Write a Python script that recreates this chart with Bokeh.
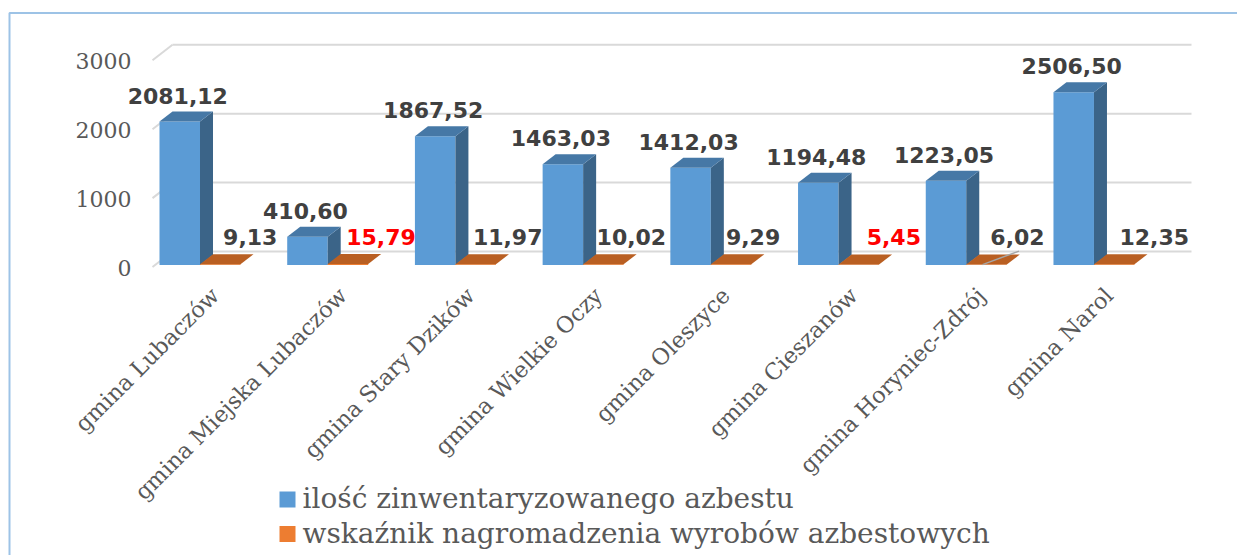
import math
from bokeh.plotting import figure
from bokeh.models import Range1d
from bokeh.core.properties import value
from bokeh.embed import file_html
from bokeh.resources import INLINE

# ---------------- data ----------------
categories = ["gmina Lubaczów", "gmina Miejska Lubaczów", "gmina Stary Dzików",
              "gmina Wielkie Oczy", "gmina Oleszyce", "gmina Cieszanów",
              "gmina Horyniec-Zdrój", "gmina Narol"]
asbestos = [2081.12, 410.60, 1867.52, 1463.03, 1412.03, 1194.48, 1223.05, 2506.50]
indicator = [9.13, 15.79, 11.97, 10.02, 9.29, 5.45, 6.02, 12.35]
y_ticks = [0, 1000, 2000, 3000]
series_names = ["ilość zinwentaryzowanego azbestu",
                "wskaźnik nagromadzenia wyrobów azbestowych"]

# ---------------- layout (pixels) ----------------
W, H = 1237, 555
X0 = 199.5      # px of the first category's group centre
XS = 127.71     # px per category
Y0 = 264.5      # px of value 0
YS = 0.0689     # px per unit of value

def dxp(px):
    return px / XS

def dyp(px):
    return px / YS

def cx(px):
    return (px - X0) / XS

def cy(py):
    return (Y0 - py) / YS

BW = dxp(40.5)             # bar width
DX, DY = dxp(13), dyp(10)  # 3-D depth of bars
WALL_DY = 13.5

BLUE, BLUE_SIDE, BLUE_TOP = "#5B9BD5", "#3B6488", "#4678A6"
ORANGE, ORANGE_TOP = "#ED7D31", "#B95F22"
GRID = "#D9D9D9"
TXT = "#595959"
LBL = "#404040"
SERIF = value("DejaVu Serif")

p = figure(width=W, height=H,
           x_range=Range1d(cx(0), cx(W)), y_range=Range1d(cy(H), cy(0)),
           output_backend="svg", toolbar_location=None, min_border=0,
           x_axis_type=None, y_axis_type=None, outline_line_color=None,
           background_fill_color="white", border_fill_color="white")

# frame border of the picture
p.line(x=[cx(9), cx(9), cx(W + 20)], y=[cy(H + 5), cy(12.5), cy(12.5)],
       line_color="#9DC3E6", line_width=2)

# back wall gridlines and front stubs
gx0, gx1 = cx(152), cx(172)
for v in y_ticks:
    p.line(x=[gx1, cx(1191)], y=[v + dyp(WALL_DY), v + dyp(WALL_DY)],
           line_color=GRID, line_width=2)
    p.line(x=[gx0, gx1], y=[v - dyp(2), v + dyp(WALL_DY)],
           line_color=GRID, line_width=2)

# y tick labels
p.text(x=[cx(131)] * len(y_ticks), y=[v - dyp(2.5) for v in y_ticks],
       text=[str(v) for v in y_ticks], text_align="right", text_baseline="middle",
       text_font=SERIF, text_font_size="22px", text_color=TXT)

idx = list(range(len(categories)))

# blue bars (3-D)
p.vbar(x=[i - BW / 2 for i in idx], width=BW, top=asbestos, bottom=0,
       fill_color=BLUE, line_color=None)
p.patches(xs=[[i, i + DX, i + DX, i] for i in idx],
          ys=[[0, DY, v + DY, v] for v in asbestos],
          fill_color=BLUE_SIDE, line_color=None)
p.patches(xs=[[i - BW, i - BW + DX, i + DX, i] for i in idx],
          ys=[[v, v + DY, v + DY, v] for v in asbestos],
          fill_color=BLUE_TOP, line_color=None)

# orange bars (3-D, on the same axis -> almost flat)
p.vbar(x=[i + BW / 2 for i in idx], width=BW, top=indicator, bottom=0,
       fill_color=ORANGE, line_color=None)
p.patches(xs=[[i, i + DX, i + BW + DX, i + BW] for i in idx],
          ys=[[w, w + DY, w + DY, w] for w in indicator],
          fill_color=ORANGE_TOP, line_color=None)

# data labels
def fmt(v):
    return f"{v:.2f}".replace(".", ",")

p.text(x=[i - BW / 2 - dxp(2) for i in idx], y=[v + DY + dyp(16) for v in asbestos],
       text=[fmt(v) for v in asbestos], text_align="center", text_baseline="middle",
       text_font=value("DejaVu Sans"), text_font_style="bold", text_font_size="22px",
       text_color=LBL)

nudge = [30, 33, 32, 28, 22, 35, 31, 40]   # label offsets (px) right of orange bars
hi, lo = max(indicator), min(indicator)
p.text(x=[i + BW / 2 + dxp(n) for i, n in zip(idx, nudge)],
       y=[w + DY + dyp(17.3) for w in indicator],
       text=[fmt(w) for w in indicator], text_align="center", text_baseline="middle",
       text_font=value("DejaVu Sans"), text_font_style="bold", text_font_size="22px",
       text_color=["#FF0000" if w in (hi, lo) else LBL for w in indicator])

# leader line for the moved label
k = categories.index("gmina Horyniec-Zdrój")
p.line(x=[k + BW / 2 - dxp(4), k + BW / 2 + dxp(32.5)],
       y=[indicator[k], indicator[k] + DY + dyp(3.5)],
       line_color="#A6A6A6", line_width=1.5)

# category labels
p.text(x=[i + dxp(15) for i in idx], y=[cy(291)] * len(idx), text=categories,
       angle=math.pi / 4, text_align="right", text_baseline="middle",
       text_font=SERIF, text_font_size="22.5px", text_color=TXT)

# legend
leg_x = cx(287)
leg_y = [cy(499), cy(533.5)]
p.scatter(x=[leg_x, leg_x], y=leg_y, marker="square", size=16,
          fill_color=[BLUE, ORANGE], line_color=None)
p.text(x=[cx(302)] * 2, y=[cy(498), cy(532.5)], text=series_names,
       text_align="left", text_baseline="middle",
       text_font=SERIF, text_font_size="28px", text_color=TXT)

open("out.html", "w").write(file_html(p, INLINE))
